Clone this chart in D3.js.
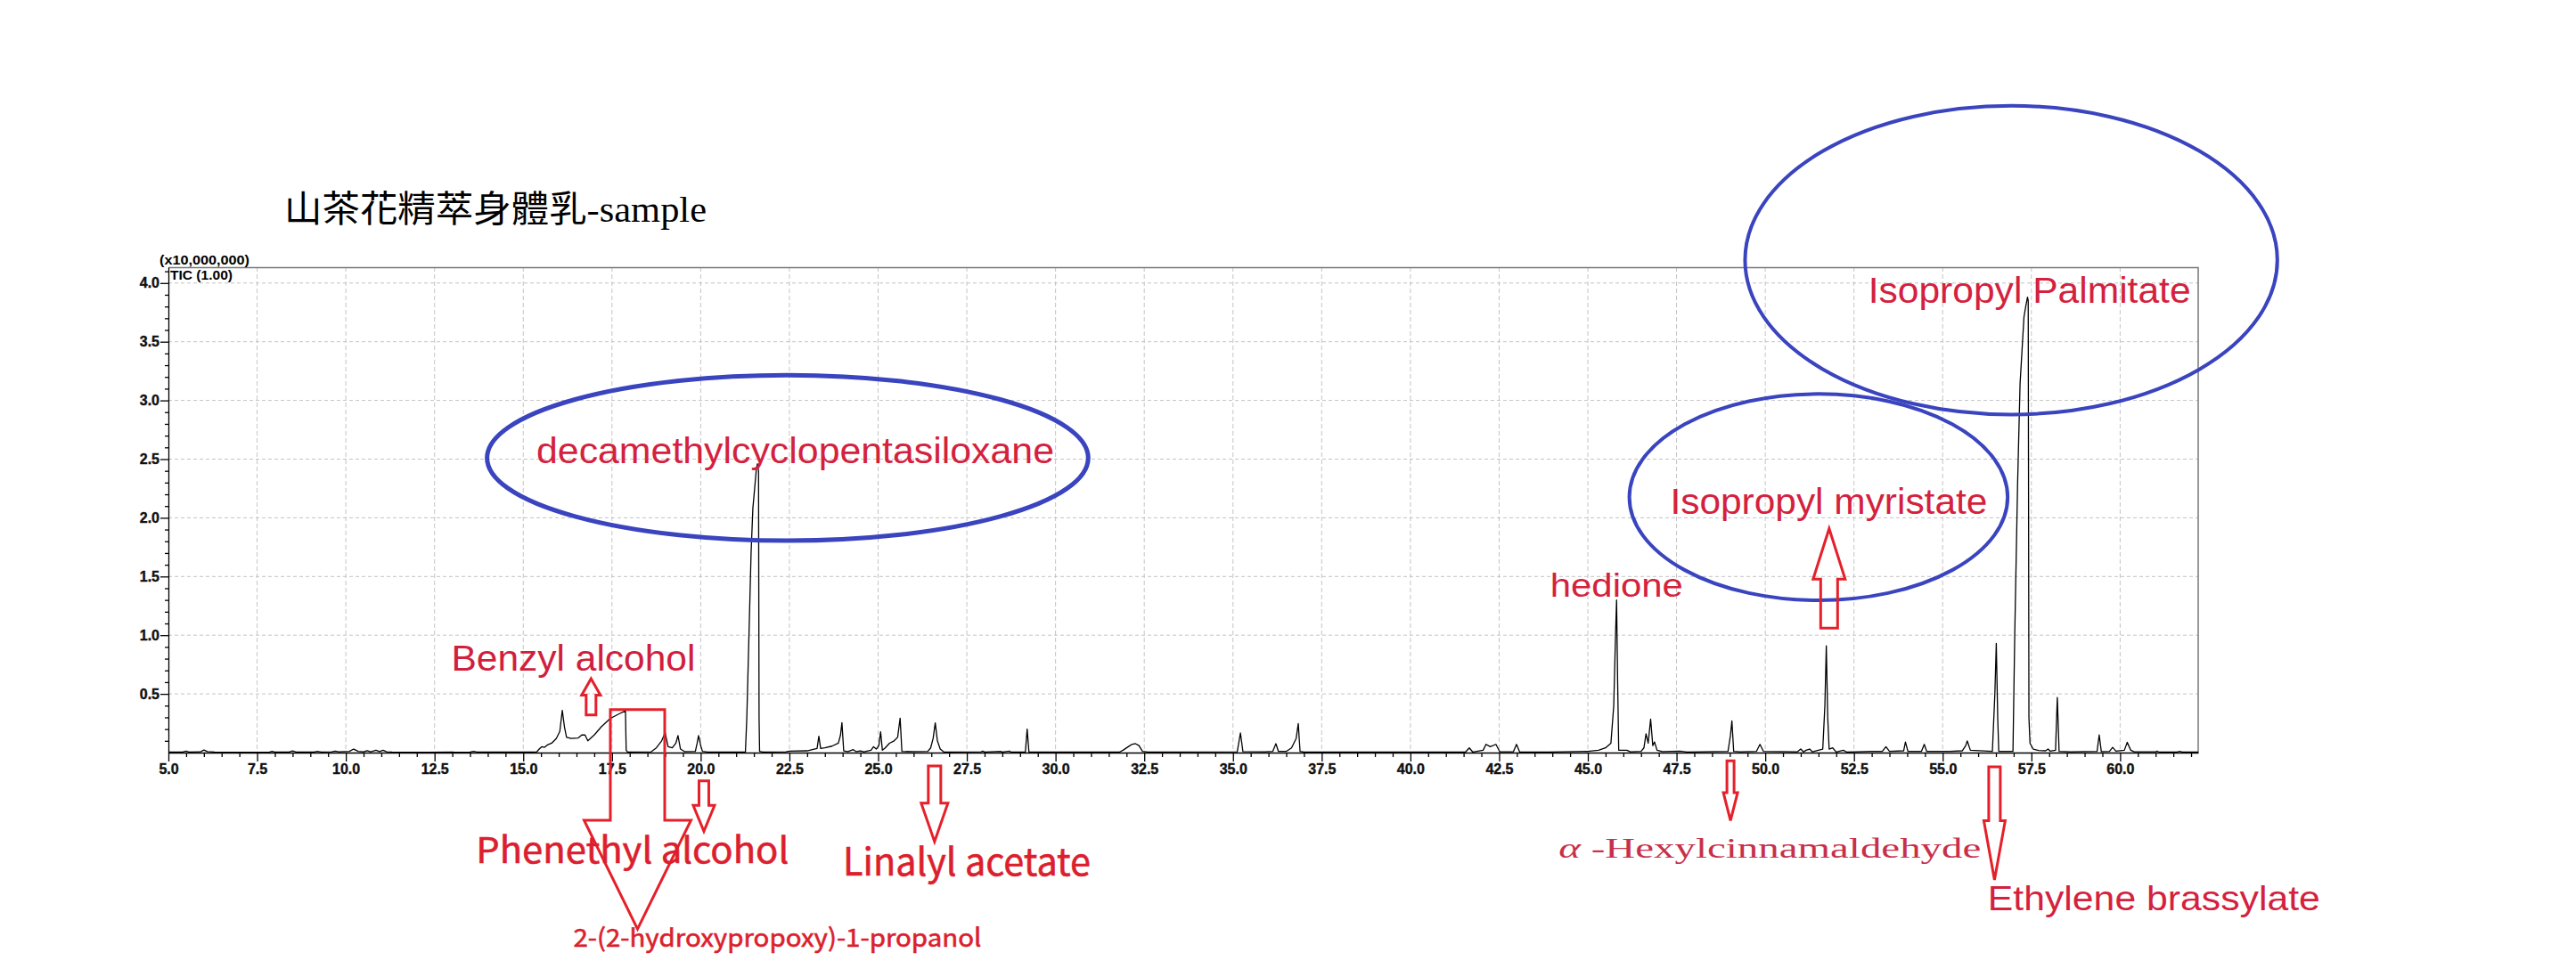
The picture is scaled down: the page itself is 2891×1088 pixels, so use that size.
<!DOCTYPE html>
<html>
<head>
<meta charset="utf-8">
<script src="https://cdn.jsdelivr.net/npm/d3@7"></script>
<style>
  html, body { margin: 0; padding: 0; background: #fff; }
  svg { display: block; }
</style>
</head>
<body>
<svg id="chart"></svg>
<script>
// TIC trace: [retention time (min), intensity (x10,000,000)]
const ticTrace = [
  [5.00,0.004],[5.40,0.004],[5.50,0.012],[5.58,0.004],[5.90,0.006],[6.00,0.022],[6.10,0.008],[6.30,0.004],
  [7.00,0.003],[7.85,0.004],[7.92,0.010],[8.00,0.004],[8.40,0.005],[8.50,0.014],[8.60,0.005],
  [9.10,0.004],[9.20,0.010],[9.30,0.005],[9.60,0.006],[9.70,0.012],[9.80,0.006],
  [10.10,0.010],[10.22,0.030],[10.35,0.010],[10.50,0.006],[10.60,0.016],[10.70,0.006],
  [10.85,0.020],[10.95,0.008],[11.05,0.020],[11.15,0.006],[11.30,0.004],
  [12.30,0.003],[13.50,0.004],[13.60,0.010],[13.70,0.004],[15.30,0.004],
  [15.38,0.006],[15.45,0.030],[15.52,0.050],[15.60,0.045],[15.68,0.065],[15.80,0.080],[15.93,0.120],
  [16.03,0.180],[16.10,0.360],[16.16,0.220],[16.22,0.130],[16.35,0.120],[16.55,0.125],[16.65,0.150],
  [16.74,0.150],[16.82,0.100],[17.00,0.150],[17.20,0.220],[17.45,0.290],[17.70,0.330],[17.88,0.355],
  [17.90,0.020],[17.94,0.005],[18.60,0.006],[18.75,0.040],[18.90,0.100],[19.00,0.170],[19.08,0.050],
  [19.20,0.040],[19.30,0.080],[19.36,0.145],[19.43,0.030],[19.55,0.008],[19.85,0.010],[19.90,0.080],
  [19.94,0.145],[20.00,0.060],[20.05,0.010],[20.20,0.005],[21.00,0.004],
  [21.26,0.005],[21.30,0.300],[21.36,1.000],[21.42,1.700],[21.47,2.080],[21.52,2.250],[21.57,2.420],
  [21.60,2.460],[21.63,2.400],[21.645,0.300],[21.66,0.010],[21.75,0.004],
  [22.40,0.006],[22.50,0.012],[23.00,0.015],[23.20,0.030],[23.28,0.035],[23.33,0.140],[23.38,0.035],
  [23.50,0.040],[23.70,0.055],[23.88,0.080],[23.94,0.150],[23.98,0.255],[24.03,0.015],[24.15,0.008],
  [24.30,0.025],[24.38,0.008],[24.50,0.015],[24.60,0.006],[24.80,0.020],[24.87,0.050],[24.95,0.030],
  [25.02,0.060],[25.07,0.177],[25.12,0.020],[25.20,0.040],[25.32,0.080],[25.45,0.100],[25.55,0.130],
  [25.62,0.293],[25.67,0.010],[26.00,0.008],[26.40,0.010],[26.48,0.040],[26.55,0.120],[26.61,0.253],
  [26.67,0.100],[26.75,0.030],[26.85,0.005],[27.90,0.006],[27.95,0.012],[28.00,0.005],[28.45,0.010],
  [28.50,0.004],[28.70,0.012],[28.75,0.004],[29.15,0.005],[29.20,0.200],[29.25,0.005],
  [31.80,0.004],[31.90,0.020],[32.05,0.050],[32.15,0.070],[32.25,0.076],[32.35,0.060],[32.45,0.010],
  [32.60,0.004],[35.12,0.006],[35.21,0.167],[35.28,0.008],[35.90,0.006],[36.12,0.010],[36.21,0.076],
  [36.28,0.010],[36.50,0.010],[36.65,0.040],[36.78,0.120],[36.84,0.247],[36.89,0.010],[37.00,0.004],
  [41.55,0.004],[41.66,0.040],[41.76,0.004],[42.05,0.020],[42.13,0.070],[42.25,0.050],[42.41,0.070],
  [42.52,0.006],[42.90,0.006],[42.99,0.070],[43.08,0.004],[43.90,0.004],
  [45.00,0.010],[45.30,0.020],[45.50,0.040],[45.65,0.080],[45.73,0.400],[45.78,1.000],[45.81,1.300],
  [45.84,0.600],[45.87,0.020],[46.10,0.020],[46.20,0.006],[46.50,0.010],[46.58,0.040],[46.64,0.160],
  [46.70,0.080],[46.77,0.285],[46.83,0.060],[46.88,0.090],[46.95,0.020],[47.10,0.008],[47.60,0.012],
  [47.80,0.004],[48.95,0.010],[49.02,0.150],[49.06,0.270],[49.11,0.010],[49.30,0.006],[49.75,0.010],
  [49.85,0.070],[49.95,0.010],[50.90,0.006],[51.00,0.030],[51.08,0.006],[51.15,0.020],[51.25,0.030],
  [51.33,0.006],[51.62,0.030],[51.68,0.400],[51.72,0.910],[51.76,0.300],[51.80,0.030],[51.90,0.040],
  [52.00,0.005],[52.20,0.020],[52.30,0.004],[53.00,0.010],[53.30,0.010],[53.40,0.050],[53.50,0.010],
  [53.90,0.015],[53.95,0.090],[54.02,0.010],[54.40,0.010],[54.48,0.070],[54.55,0.010],[55.20,0.010],
  [55.55,0.015],[55.65,0.060],[55.69,0.100],[55.78,0.020],[56.40,0.010],[56.47,0.500],[56.51,0.930],
  [56.55,0.300],[56.58,0.010],[56.98,0.010],[57.03,1.000],[57.11,2.280],[57.18,3.140],[57.29,3.710],
  [57.34,3.800],[57.39,3.880],[57.41,3.850],[57.43,0.300],[57.46,0.080],[57.55,0.030],[57.70,0.018],
  [57.90,0.015],[57.97,0.030],[58.03,0.012],[58.18,0.020],[58.23,0.470],[58.28,0.010],[58.60,0.006],
  [59.35,0.010],[59.41,0.150],[59.47,0.008],[59.70,0.010],[59.79,0.045],[59.88,0.012],[60.12,0.020],
  [60.20,0.088],[60.30,0.020],[60.40,0.006],[61.00,0.006],[61.04,0.012],[61.10,0.004],[61.60,0.004],
  [61.68,0.010],[61.75,0.004],[62.20,0.004]
];

const xMajorTicks = [5.0, 7.5, 10.0, 12.5, 15.0, 17.5, 20.0, 22.5, 25.0, 27.5, 30.0, 32.5,
                     35.0, 37.5, 40.0, 42.5, 45.0, 47.5, 50.0, 52.5, 55.0, 57.5, 60.0];
const yMajorTicks = [0.5, 1.0, 1.5, 2.0, 2.5, 3.0, 3.5, 4.0];

const chartTitle = '山茶花精萃身體乳-sample';
const yUnitLabel = '(x10,000,000)';
const traceLabel = 'TIC (1.00)';

// hand-drawn annotations, anchored in chart units (min, x10^7)
const ellipses = [
  { t: 22.45, v: 2.51, rt: 8.47, rv: 0.705, w: 5 },
  { t: 51.50, v: 2.176, rt: 5.33, rv: 0.879, w: 4 },
  { t: 56.93, v: 4.195, rt: 7.50, rv: 1.315, w: 4 }
];

const arrows = [
  // t, tail, head base, tip (intensity units); shaft/head widths in px
  { t: 16.91, tail: 0.32, head: 0.49, tip: 0.63, sw: 11, hw: 21 },
  { t: 18.22, tail: 0.366, head: -0.576, tip: -1.503, sw: 61, hw: 120 },
  { t: 20.09, tail: -0.24, head: -0.45, tip: -0.67, sw: 11, hw: 24 },
  { t: 26.59, tail: -0.114, head: -0.43, tip: -0.758, sw: 14, hw: 30 },
  { t: 49.02, tail: -0.07, head: -0.341, tip: -0.58, sw: 8, hw: 16 },
  { t: 51.80, tail: 1.061, head: 1.478, tip: 1.908, sw: 19, hw: 36 },
  { t: 56.46, tail: -0.121, head: -0.58, tip: -1.084, sw: 13, hw: 24 }
];

const labels = [
  { text: 'decamethylcyclopentasiloxane', t: 15.37, v: 2.464, size: 41, len: 581, font: 'sans', color: '#d4213d' },
  { text: 'Benzyl alcohol', t: 12.97, v: 0.70, size: 41, len: 274, font: 'sans', color: '#d0203c' },
  { text: 'Phenethyl alcohol', t: 13.67, v: -0.94, size: 40, len: 351, font: 'cjk', color: '#dc1f2e' },
  { text: '2-(2-hydroxypropoxy)-1-propanol', t: 16.41, v: -1.655, size: 28, len: 458, font: 'cjk', color: '#dc1f2e' },
  { text: 'Linalyl acetate', t: 24.01, v: -1.046, size: 43, len: 278, font: 'cjk', color: '#dc1f2e' },
  { text: 'hedione', t: 43.94, v: 1.327, size: 37, len: 149, font: 'sans', color: '#d4213d' },
  { text: 'Isopropyl myristate', t: 47.32, v: 2.03, size: 40, len: 356, font: 'sans', color: '#d4213d' },
  { text: 'Isopropyl Palmitate', t: 52.90, v: 3.834, size: 41, len: 362, font: 'sans', color: '#d4213d' },
  { text: '-Hexylcinnamaldehyde', greek: 'α', t: 44.18, v: -0.895, size: 31, len: 474, font: 'serif', color: '#c8304a' },
  { text: 'Ethylene brassylate', t: 56.27, v: -1.34, size: 39, len: 373, font: 'sans', color: '#d4213d' }
];

const fonts = {
  sans: '"Liberation Sans", Arial, sans-serif',
  cjk: '"Noto Sans CJK SC", "Noto Sans", sans-serif',
  serif: '"Liberation Serif", serif'
};

const width = 2891, height = 1088;
const margin = { top: 300, right: 424, bottom: 243, left: 189 };
const innerW = width - margin.left - margin.right;
const innerH = height - margin.top - margin.bottom;

const x = d3.scaleLinear().domain([5.0, 62.2]).range([0, innerW]);
const y = d3.scaleLinear().domain([0, 4.135]).range([innerH, 0]);

const svg = d3.select('#chart')
    .attr('width', width)
    .attr('height', height)
    .style('background', '#fff');

// title
svg.append('text')
    .attr('x', 319)
    .attr('y', 249)
    .attr('textLength', 474)
    .attr('lengthAdjust', 'spacingAndGlyphs')
    .style('font-family', '"Liberation Serif", "Noto Sans CJK TC", serif')
    .style('font-size', '41px')
    .attr('fill', '#000')
    .text(chartTitle);

const g = svg.append('g')
    .attr('transform', `translate(${margin.left}, ${margin.top})`);

// dashed grid
g.append('g').selectAll('line.vgrid')
    .data(xMajorTicks.filter(d => d > 5))
    .join('line')
    .attr('x1', d => x(d)).attr('x2', d => x(d))
    .attr('y1', 0).attr('y2', innerH)
    .attr('stroke', '#c4c4c4')
    .attr('stroke-dasharray', '5,3');

g.append('g').selectAll('line.hgrid')
    .data(yMajorTicks)
    .join('line')
    .attr('x1', 0).attr('x2', innerW)
    .attr('y1', d => y(d)).attr('y2', d => y(d))
    .attr('stroke', '#c4c4c4')
    .attr('stroke-dasharray', '4,3');

// frame (top and right)
g.append('path')
    .attr('d', `M0,0.5H${innerW}V${innerH}`)
    .attr('fill', 'none')
    .attr('stroke', '#777')
    .attr('stroke-width', 1.5);

// the trace
g.append('path')
    .datum(ticTrace)
    .attr('fill', 'none')
    .attr('stroke', '#000')
    .attr('stroke-width', 1.3)
    .attr('stroke-linejoin', 'round')
    .attr('d', d3.line()
        .x(d => x(d[0]))
        .y(d => y(d[1])));

// axes
const xMinor = d3.range(5.5, 62.01, 0.5).filter(d => Math.abs((d - 5) / 2.5 - Math.round((d - 5) / 2.5)) > 1e-6);
const yMinor = d3.range(0.1, 4.11, 0.1).filter(d => Math.abs(d * 2 - Math.round(d * 2)) > 1e-6);

g.append('g')
    .attr('class', 'x-minor')
    .attr('transform', `translate(0, ${innerH})`)
    .call(d3.axisBottom(x).tickValues(xMinor).tickSize(5).tickSizeOuter(0).tickFormat(''))
    .call(a => a.select('.domain').remove());

g.append('g')
    .attr('class', 'x-axis')
    .attr('transform', `translate(0, ${innerH})`)
    .call(d3.axisBottom(x).tickValues(xMajorTicks).tickSize(10).tickSizeOuter(0)
        .tickPadding(3).tickFormat(d3.format('.1f')));

g.append('g')
    .attr('class', 'y-minor')
    .call(d3.axisLeft(y).tickValues(yMinor).tickSize(4).tickSizeOuter(0).tickFormat(''))
    .call(a => a.select('.domain').remove());

g.append('g')
    .attr('class', 'y-axis')
    .call(d3.axisLeft(y).tickValues(yMajorTicks).tickSize(9).tickSizeOuter(0)
        .tickPadding(1).tickFormat(d3.format('.1f')));

g.selectAll('.x-axis, .y-axis, .x-minor, .y-minor').selectAll('line, path')
    .attr('stroke', '#000')
    .attr('stroke-width', 1.3);

g.selectAll('.x-axis text, .y-axis text')
    .style('font-family', fonts.sans)
    .style('font-size', '16px')
    .style('font-weight', 'bold')
    .attr('fill', '#111')
    .attr('stroke', '#111')
    .attr('stroke-width', 0.4);

svg.append('text')
    .attr('x', 179).attr('y', 297)
    .style('font-family', fonts.sans).style('font-size', '15px').style('font-weight', 'bold')
    .attr('textLength', 101).attr('lengthAdjust', 'spacingAndGlyphs')
    .text(yUnitLabel);

svg.append('text')
    .attr('x', 191).attr('y', 314)
    .style('font-family', fonts.sans).style('font-size', '15px').style('font-weight', 'bold')
    .attr('textLength', 70).attr('lengthAdjust', 'spacingAndGlyphs')
    .text(traceLabel);

// annotations
const notes = g.append('g').attr('class', 'notes');

notes.selectAll('ellipse')
    .data(ellipses)
    .join('ellipse')
    .attr('cx', d => x(d.t))
    .attr('cy', d => y(d.v))
    .attr('rx', d => x(d.t + d.rt) - x(d.t))
    .attr('ry', d => y(0) - y(d.rv))
    .attr('fill', 'none')
    .attr('stroke', '#3a44be')
    .attr('stroke-width', d => d.w);

const arrowPath = d => {
    const cx = x(d.t), s = d.sw / 2, h = d.hw / 2;
    const yt = y(d.tail), yh = y(d.head), yp = y(d.tip);
    return `M${cx - s},${yt}H${cx + s}V${yh}H${cx + h}L${cx},${yp}L${cx - h},${yh}H${cx - s}Z`;
};

notes.selectAll('path.arrow')
    .data(arrows)
    .join('path')
    .attr('class', 'arrow')
    .attr('d', arrowPath)
    .attr('fill', 'none')
    .attr('stroke', '#e5202a')
    .attr('stroke-width', 3)
    .attr('stroke-linejoin', 'miter');

const lbl = notes.selectAll('text.lbl')
    .data(labels)
    .join('text')
    .attr('class', 'lbl')
    .attr('x', d => x(d.t))
    .attr('y', d => y(d.v))
    .attr('textLength', d => d.len)
    .attr('lengthAdjust', 'spacingAndGlyphs')
    .style('font-family', d => fonts[d.font])
    .style('font-size', d => d.size + 'px')
    .attr('fill', d => d.color);

lbl.filter(d => d.font === 'cjk')
    .attr('stroke', d => d.color)
    .attr('stroke-width', 0.6);

lbl.filter(d => d.greek)
    .append('tspan')
    .style('font-style', 'italic')
    .text(d => d.greek + ' ');

lbl.append('tspan').text(d => d.text);
</script>
</body>
</html>
